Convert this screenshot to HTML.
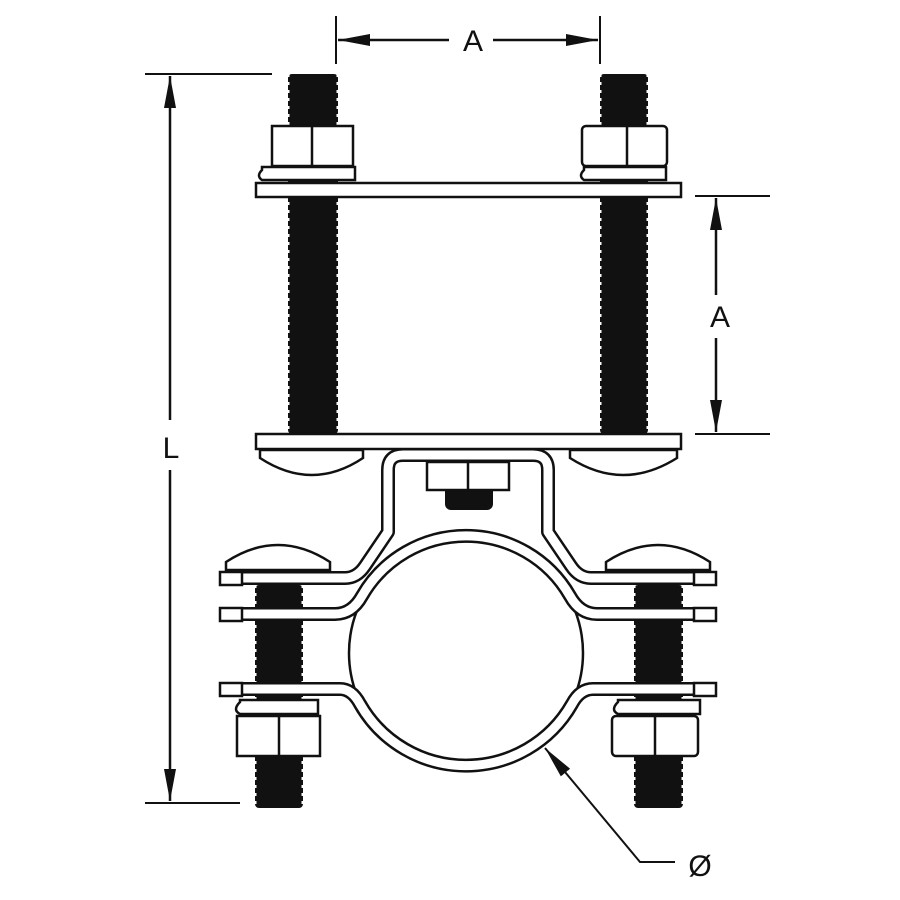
<!DOCTYPE html>
<html><head><style>body{margin:0;background:#fff}svg{display:block}</style></head>
<body>
<svg width="900" height="900" viewBox="0 0 900 900" xmlns="http://www.w3.org/2000/svg" font-family="Liberation Sans, sans-serif">
<defs>
<marker id="ar" viewBox="0 0 10 10" refX="10" refY="5" markerWidth="32" markerHeight="12" markerUnits="userSpaceOnUse" orient="auto-start-reverse" preserveAspectRatio="none"><path d="M0,0 L10,5 L0,10 z" fill="#111"/></marker>
</defs>
<g stroke="#111" stroke-width="2" fill="none">
<line x1="336" y1="16" x2="336" y2="64"/><line x1="600" y1="16" x2="600" y2="64"/>
<line x1="449" y1="40" x2="338" y2="40" marker-end="url(#ar)" stroke-width="2.5"/>
<line x1="493" y1="40" x2="598" y2="40" marker-end="url(#ar)" stroke-width="2.5"/>
<line x1="145" y1="74" x2="272" y2="74"/><line x1="145" y1="803" x2="240" y2="803"/>
<line x1="170" y1="420" x2="170" y2="76" marker-end="url(#ar)" stroke-width="2.5"/>
<line x1="170" y1="470" x2="170" y2="801" marker-end="url(#ar)" stroke-width="2.5"/>
<line x1="695" y1="196" x2="770" y2="196"/><line x1="695" y1="434" x2="770" y2="434"/>
<line x1="716" y1="295" x2="716" y2="198" marker-end="url(#ar)" stroke-width="2.5"/>
<line x1="716" y1="338" x2="716" y2="432" marker-end="url(#ar)" stroke-width="2.5"/>
<polyline points="675,862 640,862 545,748" stroke-width="2" marker-end="url(#ar)"/>
</g>
<g fill="#111" font-size="30">
<text x="473" y="51" text-anchor="middle">A</text>
<text x="171" y="458" text-anchor="middle">L</text>
<text x="720" y="327" text-anchor="middle">A</text>
<text x="700" y="876" text-anchor="middle">Ø</text>
</g>

<g fill="#111">
<rect x="288" y="74" width="50" height="360" rx="4"/>
<rect x="600" y="74" width="48" height="360" rx="4"/>
<rect x="255" y="585" width="48" height="223" rx="4"/>
<rect x="634" y="585" width="49" height="223" rx="4"/>
<rect x="445" y="480" width="48" height="30" rx="6"/>
</g>
<g stroke="#fff" stroke-width="3" stroke-dasharray="3 5">
<line x1="288" y1="74" x2="288" y2="434"/><line x1="338" y1="74" x2="338" y2="434"/>
<line x1="600" y1="74" x2="600" y2="434"/><line x1="648" y1="74" x2="648" y2="434"/>
<line x1="255" y1="585" x2="255" y2="808"/><line x1="303" y1="585" x2="303" y2="808"/>
<line x1="634" y1="585" x2="634" y2="808"/><line x1="683" y1="585" x2="683" y2="808"/>
</g>

<g stroke="#111" stroke-width="2.5" fill="#fff">
<path d="M262 170 Q256 176 262 180 L355 180 L355 167 L262 167 Z"/>
<path d="M584 170 Q578 176 584 180 L666 180 L666 167 L584 167 Z"/>
<rect x="272" y="126" width="81" height="40"/><line x1="312" y1="126" x2="312" y2="166"/>
<rect x="582" y="126" width="85" height="40" rx="4"/><line x1="627" y1="126" x2="627" y2="166"/>
<rect x="256" y="183" width="425" height="14"/>
<rect x="256" y="434" width="425" height="15"/>
<path d="M260 450 L363 450 L363 458 Q312 492 260 458 Z"/>
<path d="M570 450 L677 450 L677 458 Q623 492 570 458 Z"/>
</g>

<circle cx="466" cy="653" r="117" fill="#fff" stroke="#111" stroke-width="2.5"/>
<g fill="none" stroke-linejoin="round">
<path d="M225 614 L335 614 Q352 614 362 596 A 120 120 0 0 1 570 596 Q580 614 597 614 L712 614" stroke="#111" stroke-width="14"/>
<path d="M225 614 L335 614 Q352 614 362 596 A 120 120 0 0 1 570 596 Q580 614 597 614 L712 614" stroke="#fff" stroke-width="9"/>
<path d="M225 689 L340 689 Q352 689 360 704 A 122 122 0 0 0 572 704 Q580 689 593 689 L712 689" stroke="#111" stroke-width="14"/>
<path d="M225 689 L340 689 Q352 689 360 704 A 122 122 0 0 0 572 704 Q580 689 593 689 L712 689" stroke="#fff" stroke-width="9"/>
<path d="M230 578 L345 578 Q357 578 365 566 L388 532 L388 470 Q388 455 403 455 L533 455 Q548 455 548 470 L548 532 L571 566 Q579 578 591 578 L710 578" stroke="#111" stroke-width="14"/>
<path d="M230 578 L345 578 Q357 578 365 566 L388 532 L388 470 Q388 455 403 455 L533 455 Q548 455 548 470 L548 532 L571 566 Q579 578 591 578 L710 578" stroke="#fff" stroke-width="9"/>
</g>

<g stroke="#111" stroke-width="2.5" fill="#fff">
<rect x="220" y="572" width="22" height="13"/><rect x="694" y="572" width="22" height="13"/>
<rect x="220" y="608" width="22" height="13"/><rect x="694" y="608" width="22" height="13"/>
<rect x="220" y="683" width="22" height="13"/><rect x="694" y="683" width="22" height="13"/>
<rect x="427" y="462" width="82" height="28"/><line x1="468" y1="462" x2="468" y2="490"/>
<path d="M226 570 L330 570 L330 562 Q278 528 226 562 Z"/>
<path d="M606 570 L710 570 L710 562 Q658 528 606 562 Z"/>
<path d="M240 702 Q232 710 240 714 L318 714 L318 700 L240 700 Z"/>
<path d="M618 702 Q610 710 618 714 L700 714 L700 700 L618 700 Z"/>
<rect x="237" y="716" width="83" height="40"/><line x1="279" y1="716" x2="279" y2="756"/>
<rect x="612" y="716" width="86" height="40" rx="4"/><line x1="655" y1="716" x2="655" y2="756"/>
</g>
</svg>
</body></html>
